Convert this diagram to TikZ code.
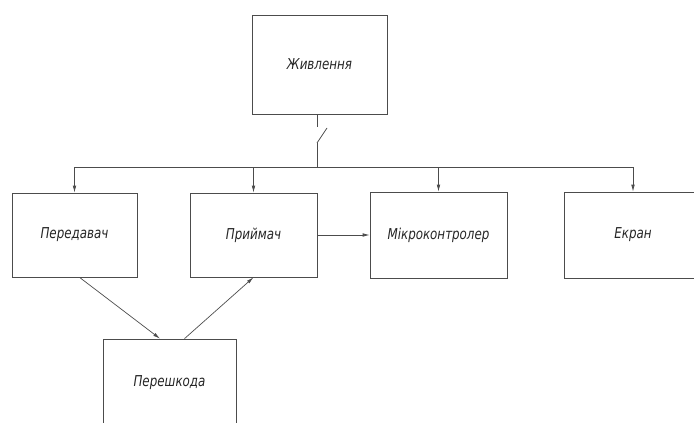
\documentclass[tikz,border=0pt]{standalone}
\usepackage{fontspec}
\newfontfamily\gost{DejaVu Sans Condensed}[FakeStretch=0.88]
\usetikzlibrary{arrows.meta, positioning}

\begin{document}
\begin{tikzpicture}
  [x=1pt, y=-1pt,
   block/.style={rectangle, draw=black!70, line width=0.7pt, inner sep=0pt,
     font=\gost\itshape\fontsize{15}{17}\selectfont, text=black!85},
   link/.style={draw=black!70, line width=0.7pt},
   arr/.style={link, -{Latex[length=7pt, width=3.6pt]}}]
  \useasboundingbox (0,0) rectangle (694,423);
  \clip (0,0) rectangle (694,423);
  % blocks
  \node (zhyv) at (319.5, 64.5) [block, minimum width=135pt, minimum height=99pt] {Живлення};
  \node (pered) at (74.5, 235) [block, minimum width=125pt, minimum height=84pt] {Передавач};
  \node (pryim) at (253.5, 235) [block, minimum width=127pt, minimum height=84pt] {Приймач};
  \node (mikro) at (438.5, 235) [block, minimum width=137pt, minimum height=86pt] {Мікроконтролер};
  \node (ekran) at (633, 235) [block, minimum width=138pt, minimum height=86pt] {Екран};
  \node (pershk) at (169.5, 383) [block, minimum width=133pt, minimum height=88pt] {Перешкода};
  % switch and bus
  \coordinate (sw1) at (317, 127);
  \coordinate (sw2) at (317, 143);
  \coordinate (sw3) at (327, 128);
  \coordinate (bus) at (317, 167);
  \draw [link] (zhyv.south -| sw1) -- (sw1);
  \draw [link] (sw2) -- (sw3);
  \draw [link] (sw2) -- (bus);
  \draw [link] (pered.north |- bus) -- (ekran.north |- bus);
  \foreach \n in {pered, pryim, mikro, ekran}{
    \draw [arr] (\n.north |- bus) -- (\n.north);
  }
  % signal paths
  \draw [arr] (pryim.east) -- (mikro.west);
  \draw [arr] ([xshift=5pt]pered.south) -- ([xshift=-9.5pt]pershk.north);
  \draw [arr] ([xshift=15pt]pershk.north) -- (pryim.south);
\end{tikzpicture}
\end{document}
